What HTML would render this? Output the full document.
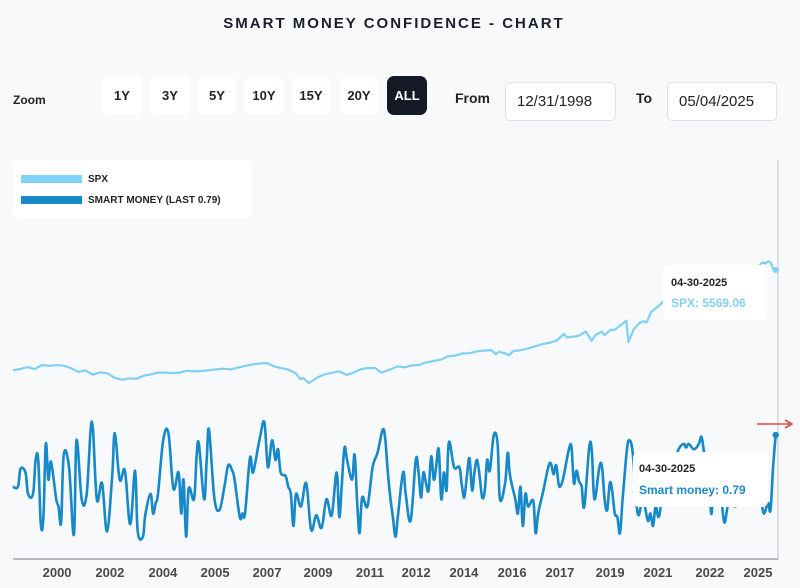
<!DOCTYPE html>
<html><head><meta charset="utf-8"><style>
body{margin:0;width:800px;height:588px;background:#f8f9fb;font-family:"Liberation Sans",sans-serif;overflow:hidden;position:relative}
.t{position:absolute;font-weight:bold}
.btn{position:absolute;top:76px;width:40px;height:39px;background:#fff;border-radius:7px;font-size:13px;font-weight:bold;color:#222;display:flex;align-items:center;justify-content:center}
.inp{position:absolute;top:82px;height:39px;background:#fff;border:1px solid #dde1e6;border-radius:5px;font-size:15px;color:#222;display:flex;align-items:center;padding-left:11px;box-sizing:border-box}
</style></head><body>
<div class="t" style="left:0;width:788px;top:15px;text-align:center;font-size:15px;letter-spacing:2px;color:#1a1f2b">SMART MONEY CONFIDENCE - CHART</div>
<div class="t" style="left:13px;top:93px;font-size:12px;color:#222">Zoom</div>
<div class="btn" style="left:102px">1Y</div>
<div class="btn" style="left:150px">3Y</div>
<div class="btn" style="left:197px">5Y</div>
<div class="btn" style="left:244px">10Y</div>
<div class="btn" style="left:291px">15Y</div>
<div class="btn" style="left:339px">20Y</div>
<div class="btn" style="left:387px;background:#131a26;color:#fff">ALL</div>
<div class="t" style="left:455px;top:90px;font-size:14px;color:#222">From</div>
<div class="inp" style="left:505px;width:111px">12/31/1998</div>
<div class="t" style="left:636px;top:90px;font-size:14px;color:#222">To</div>
<div class="inp" style="left:667px;width:110px">05/04/2025</div>
<div style="position:absolute;left:13px;top:160px;width:240px;height:59px;background:#fff;border-radius:8px">
 <div style="position:absolute;left:8px;top:14px;font-size:10px;font-weight:bold;color:#222"><span style="display:inline-block;width:61px;height:8px;background:#80d4f7;vertical-align:middle;margin-right:6px"></span>SPX</div>
 <div style="position:absolute;left:8px;top:35px;font-size:10px;font-weight:bold;color:#222"><span style="display:inline-block;width:61px;height:8px;background:#1689c8;vertical-align:middle;margin-right:6px"></span>SMART MONEY (LAST 0.79)</div>
</div>
<svg id="chart" width="800" height="588" style="position:absolute;left:0;top:0;pointer-events:none"></svg>
<div style="position:absolute;left:663px;top:265px;width:104px;height:55px;background:#fff;border-radius:6px">
 <div style="position:absolute;left:8px;top:12px;font-size:11px;font-weight:bold;color:#222">04-30-2025</div>
 <div style="position:absolute;left:8px;top:31px;font-size:12px;font-weight:bold;color:#86cff0">SPX: 5569.06</div>
</div>
<div style="position:absolute;left:633px;top:452px;width:135px;height:55px;background:#fff;border-radius:6px">
 <div style="position:absolute;left:6px;top:11px;font-size:11px;font-weight:bold;color:#222">04-30-2025</div>
 <div style="position:absolute;left:6px;top:31px;font-size:12px;font-weight:bold;color:#1a8ac8">Smart money: 0.79</div>
</div>
<script>
const spxDates=[1999,1999.25,1999.5,1999.75,2000,2000.25,2000.5,2000.75,2001,2001.25,2001.5,2001.75,2002,2002.25,2002.5,2002.75,2003,2003.25,2003.5,2003.75,2004,2004.25,2004.5,2004.75,2005,2005.25,2005.5,2005.75,2006,2006.25,2006.5,2006.75,2007,2007.25,2007.5,2007.75,2008,2008.25,2008.5,2008.75,2008.9,2009,2009.2,2009.5,2009.75,2010,2010.25,2010.5,2010.75,2011,2011.25,2011.5,2011.7,2012,2012.25,2012.5,2012.75,2013,2013.25,2013.5,2013.75,2014,2014.25,2014.5,2014.75,2015,2015.25,2015.5,2015.65,2015.75,2016,2016.1,2016.25,2016.5,2016.75,2017,2017.25,2017.5,2017.75,2018,2018.1,2018.5,2018.75,2018.95,2019.1,2019.3,2019.4,2019.6,2019.75,2020,2020.15,2020.22,2020.4,2020.6,2020.75,2020.85,2021,2021.15,2021.25,2021.42,2021.75,2022,2022.5,2022.75,2023,2023.5,2023.8,2024,2024.25,2024.5,2024.76,2024.85,2024.95,2025.05,2025.12,2025.2,2025.3];
const spxValues=[1230,1290,1370,1280,1460,1420,1450,1430,1320,1160,1220,1040,1140,1100,910,820,880,860,990,1050,1130,1130,1110,1130,1210,1180,1200,1230,1270,1300,1270,1340,1420,1480,1530,1540,1400,1320,1260,1100,850,900,680,920,1060,1120,1180,1030,1140,1280,1330,1320,1130,1260,1400,1360,1440,1460,1570,1630,1690,1830,1870,1960,1970,2050,2080,2100,1920,2040,1950,1880,2060,2100,2170,2270,2360,2420,2520,2800,2650,2720,2910,2500,2780,2900,2750,2980,2980,3230,3380,2450,3000,3270,3360,3300,3750,3900,4000,4200,4500,4700,3800,3600,3900,4400,4200,4800,5200,5400,5800,5900,5850,5950,5900,5650,5569];
const smDates=[1998.99,1999.17,1999.26,1999.43,1999.52,1999.69,1999.78,1999.87,1999.96,2000.05,2000.13,2000.22,2000.31,2000.49,2000.57,2000.66,2000.75,2000.93,2001.10,2001.19,2001.37,2001.54,2001.72,2001.89,2002.07,2002.24,2002.42,2002.51,2002.68,2002.86,2003.04,2003.21,2003.30,2003.48,2003.56,2003.74,2003.83,2003.92,2004.00,2004.18,2004.36,2004.53,2004.71,2004.80,2004.88,2004.97,2005.06,2005.24,2005.33,2005.41,2005.59,2005.68,2005.76,2005.94,2006.12,2006.29,2006.42,2006.56,2006.64,2006.82,2006.91,2007.00,2007.17,2007.26,2007.35,2007.52,2007.67,2007.79,2007.93,2008.05,2008.14,2008.23,2008.40,2008.49,2008.58,2008.67,2008.76,2008.93,2009.11,2009.28,2009.46,2009.64,2009.81,2009.99,2010.16,2010.25,2010.34,2010.43,2010.52,2010.69,2010.78,2010.87,2010.95,2011.04,2011.22,2011.40,2011.57,2011.75,2011.84,2011.92,2012.01,2012.10,2012.19,2012.27,2012.45,2012.54,2012.71,2012.89,2012.98,2013.07,2013.15,2013.24,2013.33,2013.42,2013.51,2013.59,2013.68,2013.77,2013.86,2013.95,2014.03,2014.21,2014.39,2014.47,2014.56,2014.65,2014.74,2014.83,2014.91,2015.00,2015.09,2015.18,2015.27,2015.35,2015.44,2015.58,2015.71,2015.79,2015.97,2016.06,2016.14,2016.32,2016.41,2016.50,2016.58,2016.67,2016.76,2016.94,2017.02,2017.11,2017.29,2017.46,2017.55,2017.64,2017.73,2017.82,2017.90,2017.99,2018.17,2018.26,2018.34,2018.43,2018.52,2018.61,2018.70,2018.87,2018.96,2019.05,2019.22,2019.31,2019.40,2019.49,2019.58,2019.66,2019.75,2019.84,2019.93,2020.02,2020.16,2020.24,2020.37,2020.54,2020.72,2020.89,2020.98,2021.07,2021.16,2021.25,2021.33,2021.42,2021.60,2021.77,2021.95,2022.13,2022.21,2022.30,2022.48,2022.65,2022.74,2022.83,2023.00,2023.09,2023.18,2023.36,2023.44,2023.53,2023.62,2023.71,2023.89,2024.06,2024.24,2024.41,2024.59,2024.77,2024.89,2025.03,2025.12,2025.21,2025.30];
const smValues=[.50,.50,.60,.58,.46,.46,.65,.65,.29,.33,.74,.54,.64,.43,.39,.30,.68,.61,.23,.76,.43,.46,.865,.43,.52,.25,.56,.80,.54,.59,.29,.59,.25,.22,.34,.46,.35,.41,.46,.76,.80,.49,.58,.35,.54,.22,.49,.43,.67,.74,.43,.65,.82,.44,.37,.50,.62,.59,.54,.33,.35,.35,.66,.58,.63,.78,.86,.61,.76,.65,.71,.58,.56,.50,.46,.28,.46,.39,.52,.26,.34,.27,.43,.34,.58,.33,.52,.72,.65,.54,.68,.41,.24,.44,.39,.61,.69,.82,.76,.59,.44,.33,.22,.33,.58,.46,.31,.65,.59,.44,.58,.52,.48,.67,.54,.61,.71,.43,.58,.48,.75,.61,.61,.52,.44,.56,.66,.48,.58,.65,.56,.44,.48,.65,.59,.79,.74,.43,.52,.69,.56,.43,.35,.50,.28,.46,.39,.42,.24,.35,.48,.61,.63,.57,.62,.51,.51,.56,.71,.72,.52,.59,.53,.50,.39,.72,.70,.43,.61,.61,.43,.37,.52,.48,.35,.33,.24,.43,.69,.76,.69,.35,.43,.31,.35,.28,.39,.33,.39,.61,.67,.63,.71,.74,.72,.74,.71,.74,.78,.69,.50,.35,.61,.52,.41,.30,.37,.46,.39,.43,.46,.48,.48,.44,.35,.41,.37,.61,.79];
const tickYears=[2000.52,2002.34,2004.17,2005.97,2007.76,2009.52,2011.31,2012.90,2014.55,2016.21,2017.86,2019.59,2021.24,2023.03,2024.69];
const tickLabels=["2000","2002","2004","2005","2007","2009","2011","2012","2014","2016","2017","2019","2021","2022","2025"];

const X=y=>13+(y-1999)*29;
const YS=v=>383-(v-680)*0.02311;
const YM=v=>576-v*178.5;
const svg=document.getElementById('chart');
const NS='http://www.w3.org/2000/svg';
function mk(t,a){const e=document.createElementNS(NS,t);for(const k in a)e.setAttribute(k,a[k]);svg.appendChild(e);return e;}
function smooth(p){let d='M'+p[0][0].toFixed(1)+','+p[0][1].toFixed(1);const k=0.18;
 for(let i=0;i<p.length-1;i++){const p0=p[i-1]||p[i],p1=p[i],p2=p[i+1],p3=p[i+2]||p2;
  d+='C'+(p1[0]+(p2[0]-p0[0])*k).toFixed(1)+','+(p1[1]+(p2[1]-p0[1])*k).toFixed(1)+' '+(p2[0]-(p3[0]-p1[0])*k).toFixed(1)+','+(p2[1]-(p3[1]-p1[1])*k).toFixed(1)+' '+p2[0].toFixed(1)+','+p2[1].toFixed(1);}
 return d;}
const vline=mk('line',{x1:778,y1:160,x2:778,y2:560,stroke:'#dcdfe3','stroke-width':2});


const axis=mk('line',{x1:13,y1:559,x2:778,y2:559,stroke:'#a0a4a8','stroke-width':1.5});


const sp=mk('path',{d:spxDates.map((d,i)=>(i?'L':'M')+X(d).toFixed(1)+','+YS(spxValues[i]).toFixed(1)).join(''),fill:'none',stroke:'#7fd0f4','stroke-width':2.2,'stroke-linejoin':'round'});


const sm=mk('path',{d:smooth(smDates.map((d,i)=>[X(d),YM(smValues[i])])),fill:'none',stroke:'#1689c8','stroke-width':2.6,'stroke-linejoin':'round'});


const d1=mk('circle',{cx:X(spxDates[spxDates.length-1]),cy:YS(spxValues[spxValues.length-1]),r:3,fill:'#7fd0f4'});


const d2=mk('circle',{cx:X(smDates[smDates.length-1]),cy:YM(smValues[smValues.length-1]),r:3.2,fill:'#1689c8'});


const ar=mk('path',{d:'M757,424 L790,424 M785,420 L792,424 L785,428',stroke:'#d9533b','stroke-width':1.6,fill:'none'});


tickYears.forEach((t,i)=>{
 const tx=mk('text',{x:X(t),y:577,'text-anchor':'middle','font-size':13,'font-weight':600,fill:'#4a4a4a','font-family':'Liberation Sans, sans-serif'});
 tx.textContent=tickLabels[i];
 
 
});
</script>
</body></html>
